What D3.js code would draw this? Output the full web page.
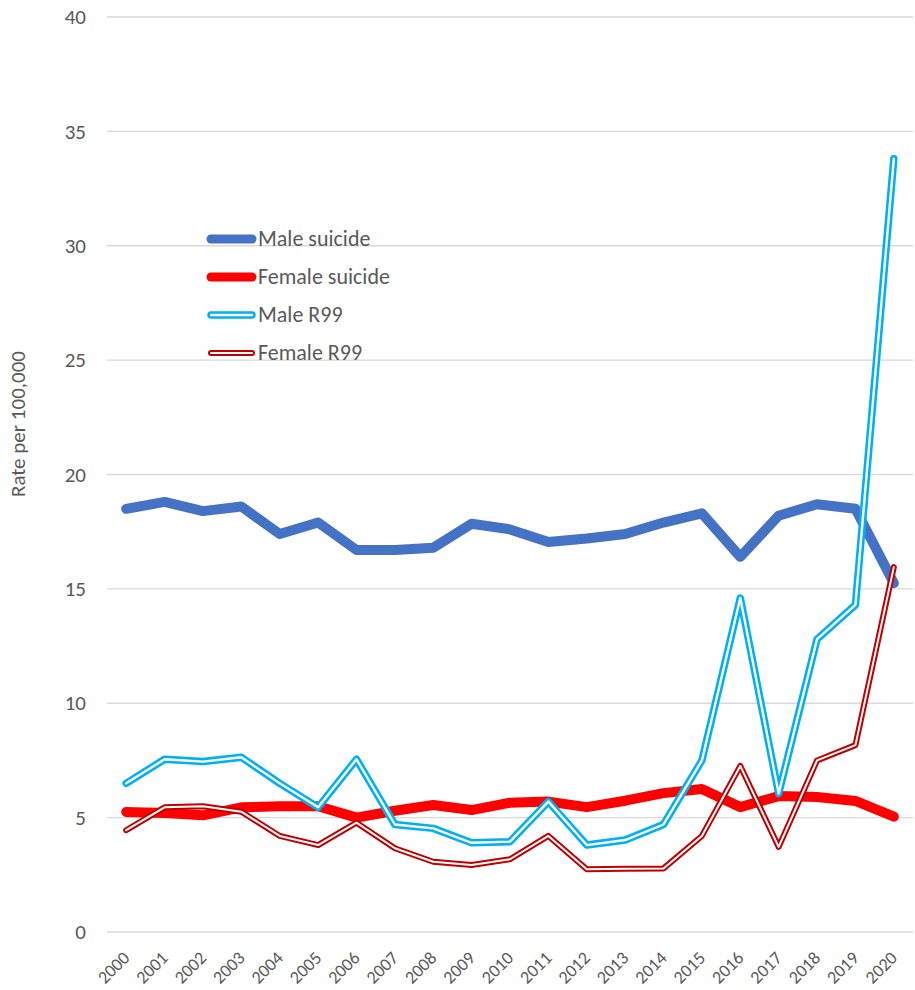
<!DOCTYPE html>
<html>
<head>
<meta charset="utf-8">
<script src="https://cdn.jsdelivr.net/npm/d3@7"></script>
<style>
  body { margin: 0; background: #fff; }
  text { font-family: Carlito, Calibri, "Open Sans", sans-serif; fill: #595959; }
</style>
</head>
<body>
<div class="chart"></div>
<script>
var years = ["2000","2001","2002","2003","2004","2005","2006","2007","2008","2009","2010",
  "2011","2012","2013","2014","2015","2016","2017","2018","2019","2020"];
var maleSuicide = [18.5, 18.8, 18.4, 18.6, 17.4, 17.9, 16.7, 16.7, 16.8, 17.85, 17.6,
  17.05, 17.2, 17.4, 17.9, 18.3, 16.4, 18.2, 18.7, 18.5, 15.25];
var femaleSuicide = [5.25, 5.2, 5.1, 5.45, 5.5, 5.5, 5.0, 5.3, 5.55, 5.33, 5.65,
  5.7, 5.46, 5.74, 6.07, 6.25, 5.46, 5.94, 5.9, 5.73, 5.04];
var maleR99 = [6.5, 7.55, 7.45, 7.64, 6.5, 5.45, 7.55, 4.7, 4.53, 3.9, 3.95,
  5.7, 3.8, 4.02, 4.7, 7.5, 14.6, 6.05, 12.8, 14.3, 33.8];
var femaleR99 = [4.45, 5.45, 5.5, 5.26, 4.2, 3.8, 4.78, 3.66, 3.07, 2.93, 3.18,
  4.2, 2.74, 2.77, 2.78, 4.2, 7.26, 3.72, 7.5, 8.17, 15.95];
var yTicks = [0, 5, 10, 15, 20, 25, 30, 35, 40];

var series = [
  {name: "Male suicide", values: maleSuicide, color: "#4472C4", width: 10, double: false},
  {name: "Female suicide", values: femaleSuicide, color: "#FF0000", width: 10, double: false},
  {name: "Male R99", values: maleR99, color: "#00B0F0", width: 7.5, inner: 2.4, double: true},
  {name: "Female R99", values: femaleR99, color: "#C00000", width: 6, inner: 2, double: true}
];

var width = 915, height = 990;
var plot = {left: 107, right: 913, top: 17, bottom: 932};

var svg = d3.select(".chart").append("svg")
  .attr("width", width)
  .attr("height", height);

var x = d3.scalePoint()
  .domain(years)
  .range([plot.left, plot.right])
  .padding(0.5);

var y = d3.scaleLinear()
  .domain([0, 40])
  .range([plot.bottom, plot.top]);

// gridlines
svg.append("g")
  .selectAll("line")
  .data(yTicks)
  .enter().append("line")
  .attr("x1", plot.left)
  .attr("x2", plot.right)
  .attr("y1", function(d) { return y(d); })
  .attr("y2", function(d) { return y(d); })
  .attr("stroke", "#D9D9D9")
  .attr("stroke-width", 1.3);

// y axis labels
var yAxis = svg.append("g")
  .attr("transform", "translate(" + plot.left + ",0)")
  .call(d3.axisLeft(y).tickValues(yTicks).tickSize(0).tickPadding(21));
yAxis.select(".domain").remove();
yAxis.selectAll("text")
  .style("font-size", "21px")
  .attr("fill", "#595959");

// x axis labels, rotated
var xAxis = svg.append("g")
  .attr("transform", "translate(0," + plot.bottom + ")")
  .call(d3.axisBottom(x).tickSize(0));
xAxis.select(".domain").remove();
xAxis.selectAll("text")
  .style("font-size", "18px")
  .attr("fill", "#595959")
  .attr("text-anchor", "end")
  .attr("dy", 0)
  .attr("y", 0)
  .attr("transform", "translate(4,27) rotate(-45)");

svg.append("text")
  .attr("transform", "translate(25,424) rotate(-90)")
  .attr("text-anchor", "middle")
  .style("font-size", "21px")
  .text("Rate per 100,000");

var line = d3.line()
  .x(function(d, i) { return x(years[i]); })
  .y(function(d) { return y(d); });

series.forEach(function(s) {
  svg.append("path")
    .datum(s.values)
    .attr("fill", "none")
    .attr("stroke", s.color)
    .attr("stroke-width", s.width)
    .attr("stroke-linejoin", "round")
    .attr("stroke-linecap", "round")
    .attr("d", line);
  // compound (double) line: white core over the coloured stroke
  if (s.double) {
    svg.append("path")
      .datum(s.values)
      .attr("fill", "none")
      .attr("stroke", "#fff")
      .attr("stroke-width", s.inner)
      .attr("stroke-linejoin", "round")
      .attr("stroke-linecap", "round")
      .attr("d", line);
  }
});

// legend
var legend = svg.append("g").attr("class", "legend");
series.forEach(function(s, i) {
  var ly = 239 + i * 38;
  legend.append("line")
    .attr("x1", 211).attr("x2", 252)
    .attr("y1", ly).attr("y2", ly)
    .attr("stroke", s.color)
    .attr("stroke-width", s.double ? s.width : 9)
    .attr("stroke-linecap", "round");
  if (s.double) {
    legend.append("line")
      .attr("x1", 211).attr("x2", 252)
      .attr("y1", ly).attr("y2", ly)
      .attr("stroke", "#fff")
      .attr("stroke-width", s.inner)
      .attr("stroke-linecap", "round");
  }
  legend.append("text")
    .attr("x", 258)
    .attr("y", ly + 7)
    .style("font-size", "22px")
    .text(s.name);
});
</script>
</body>
</html>
